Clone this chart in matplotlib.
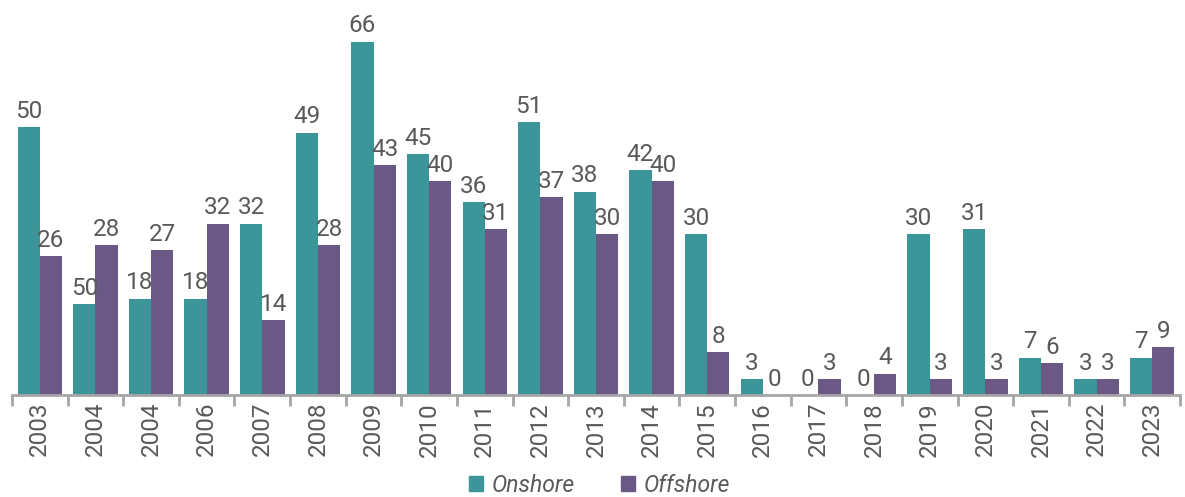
import numpy as np
import matplotlib
matplotlib.use('Agg')
from matplotlib import pyplot as plt
from matplotlib.patches import Patch

anos = ['2003', '2004', '2004', '2006', '2007', '2008', '2009', '2010', '2011', '2012',
        '2013', '2014', '2015', '2016', '2017', '2018', '2019', '2020', '2021', '2022', '2023']
onshore = [50, 17, 18, 18, 32, 49, 66, 45, 36, 51, 38, 42, 30, 3, 0, 0, 30, 31, 7, 3, 7]
offshore = [26, 28, 27, 32, 14, 28, 43, 40, 31, 37, 30, 40, 8, 0, 3, 4, 3, 3, 6, 3, 9]
rotulos_onshore = ['50', '50', '18', '18', '32', '49', '66', '45', '36', '51', '38', '42',
                   '30', '3', '0', '0', '30', '31', '7', '3', '7']
rotulos_offshore = [str(v) for v in offshore]

cor_on = '#3C9599'
cor_off = '#6A5985'
cinza = '#595959'

plt.rcParams['font.family'] = ['Roboto', 'DejaVu Sans']

fig = plt.figure(figsize=(11.85, 4.97), dpi=100)
ax = fig.add_axes([0.0101, 0.2052, 0.9857, 0.7948])

x = np.arange(len(anos))
w = 0.4
b1 = ax.bar(x - w / 2, onshore, w, color=cor_on)
b2 = ax.bar(x + w / 2, offshore, w, color=cor_off)

for barras, rotulos in ((b1, rotulos_onshore), (b2, rotulos_offshore)):
    for barra, txt in zip(barras, rotulos):
        ax.text(barra.get_x() + barra.get_width() / 2, barra.get_height() + 0.8, txt,
                ha='center', va='bottom', fontsize=17.5, color=cinza)

ax.set_xlim(-0.5, len(anos) - 0.5)
ax.set_ylim(0, 73.8)
ax.set_yticks([])
for lado in ('top', 'right', 'left'):
    ax.spines[lado].set_visible(False)
ax.spines['bottom'].set_color('#A6A6A6')
ax.spines['bottom'].set_linewidth(2)

ax.set_xticks(np.arange(len(anos) + 1) - 0.5)
ax.set_xticklabels([])
ax.tick_params(axis='x', which='major', length=8, width=2, color='#A6A6A6')
ax.set_xticks(x, minor=True)
ax.set_xticklabels(anos, minor=True, rotation=90, fontsize=17.5, color=cinza)
ax.tick_params(axis='x', which='minor', length=0, pad=5)

handles = [Patch(color=cor_on, label='Onshore'), Patch(color=cor_off, label='Offshore')]
fig.legend(handles=handles, loc='center', bbox_to_anchor=(0.506, 0.024), ncol=2,
           frameon=False, prop={'family': 'Roboto', 'style': 'italic', 'size': 16.5},
           labelcolor=cinza, handlelength=0.6, handleheight=0.6, handletextpad=0.4,
           columnspacing=2.0)

fig.savefig('out.png', dpi=100)
